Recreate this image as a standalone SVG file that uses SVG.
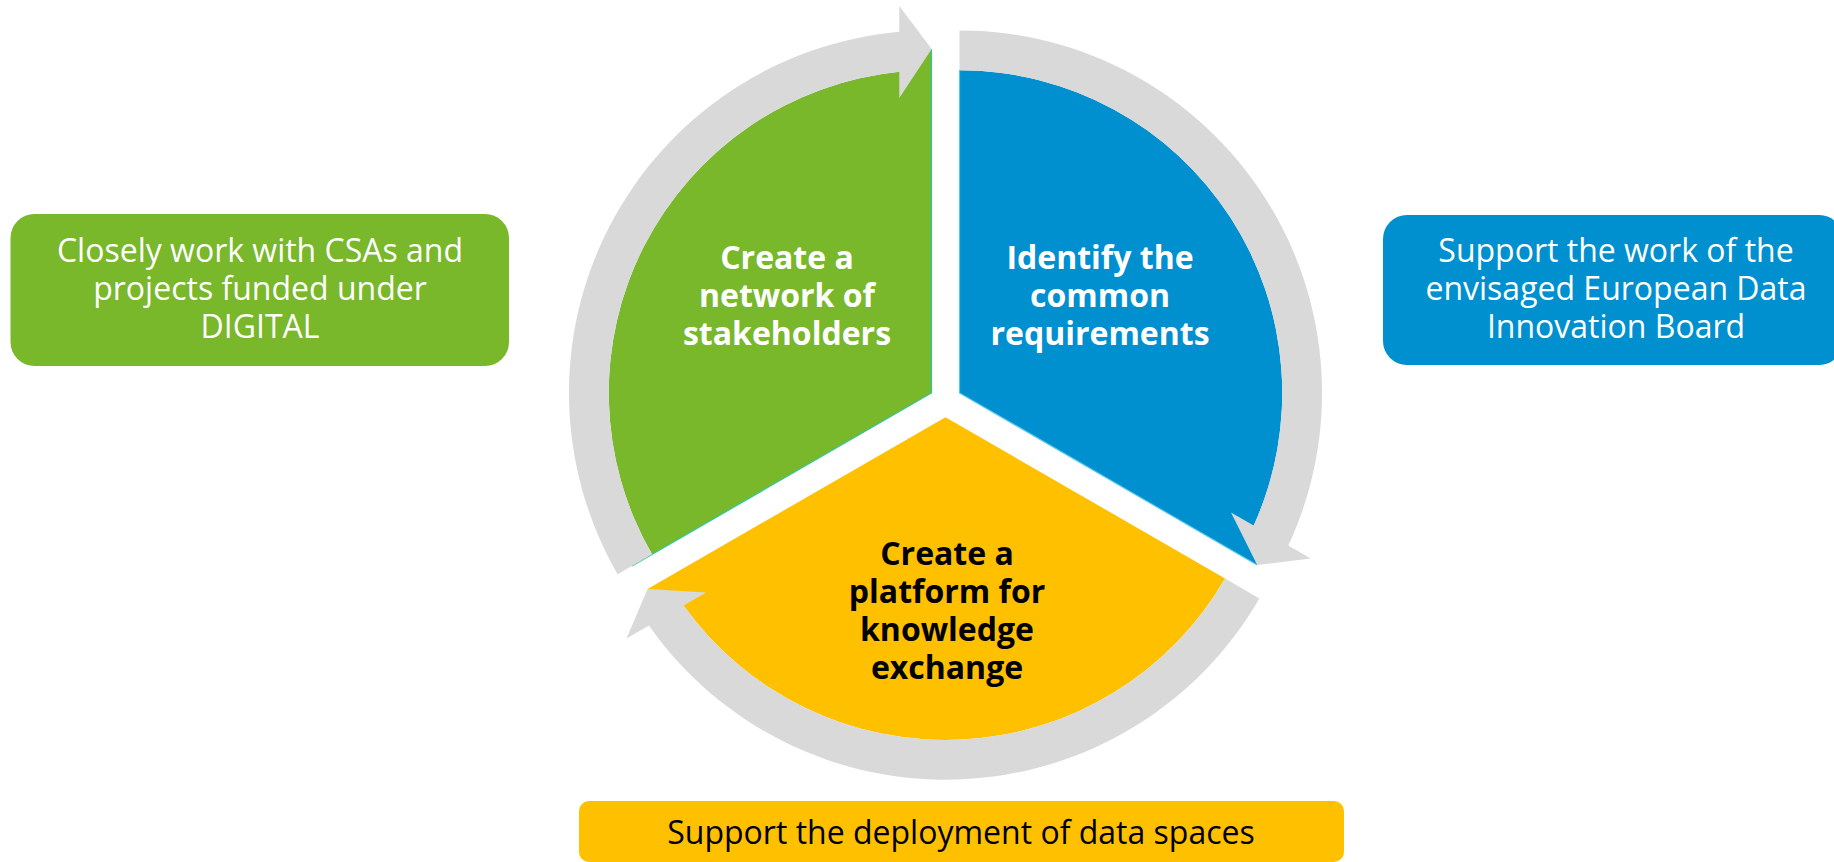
<svg xmlns="http://www.w3.org/2000/svg" width="1834" height="862" viewBox="0 0 1834 862">
  <style>
    .green { fill: #78B82A; }
    .blue { fill: #008FCF; }
    .yellow { fill: #FFC000; }
    .ring { fill: #D9D9D9; }
    .lbl { font-family: "Open Sans", "Liberation Sans", sans-serif; font-weight: 700; font-size: 32px; text-anchor: middle; }
    .box { font-family: "Open Sans", "Liberation Sans", sans-serif; font-weight: 400; font-size: 32px; text-anchor: middle; }
    .w { fill: #FFFFFF; }
    .k { fill: #000000; }
    .tealedge { stroke: #2CC7A4; stroke-width: 1.2; fill: none; }
    .cyanedge { stroke: #55C6EC; stroke-width: 1.2; fill: none; }
  </style>
  <rect width="1834" height="862" fill="#FFFFFF"/>

  <g id="sector-network">
    <path class="green" d="M 931.5 392.9 L 931.5 49 L 899.3 71.8 A 322.7 322.7 0 0 0 652.0 554.3 Z"/>
    <path class="tealedge" d="M 931.5 49 L 931.5 392.9 L 632 566"/>
    <text class="lbl w" x="787" y="269">Create a</text>
    <text class="lbl w" x="787" y="307">network of</text>
    <text class="lbl w" x="787" y="345">stakeholders</text>
  </g>

  <g id="sector-requirements">
    <path class="blue" d="M 959.5 392.9 L 959.5 70.2 A 322.7 322.7 0 0 1 1253.7 525.6 L 1257.2 565.0 Z"/>
    <path class="cyanedge" d="M 959.5 70.2 L 959.5 392.9 L 1257.2 565.0"/>
    <text class="lbl w" x="1100" y="269">Identify the</text>
    <text class="lbl w" x="1100" y="307">common</text>
    <text class="lbl w" x="1100" y="345">requirements</text>
  </g>

  <g id="sector-platform">
    <path class="yellow" d="M 945.5 417.2 L 1245 590 L 1225.0 578.6 A 322.7 322.7 0 0 1 683.5 605.6 L 647.6 589.0 Z"/>
    <text class="lbl k" x="947" y="565">Create a</text>
    <text class="lbl k" x="947" y="603">platform for</text>
    <text class="lbl k" x="947" y="641">knowledge</text>
    <text class="lbl k" x="947" y="679">exchange</text>
  </g>

  <g id="connectors">
    <path class="ring" d="M 652.0 554.3 L 617.6 574.2 A 362.5 362.5 0 0 1 899.3 31.8 L 899.3 6 L 931.7 49 L 899.3 98 L 899.3 71.8 A 322.7 322.7 0 0 0 652.0 554.3 Z"/>
    <path class="ring" d="M 959.5 70.2 L 959.5 30.4 A 362.5 362.5 0 0 1 1288.3 545.6 L 1310.7 558.5 L 1257.2 565.0 L 1231.0 512.5 L 1253.7 525.6 A 322.7 322.7 0 0 0 959.5 70.2 Z"/>
    <path class="ring" d="M 1225.0 578.6 L 1259.4 598.5 A 362.5 362.5 0 0 1 648.9 625.6 L 626.5 638.5 L 647.6 589.0 L 706.2 592.5 L 683.5 605.6 A 322.7 322.7 0 0 0 1225.0 578.6 Z"/>
  </g>

  <g id="box-csas">
    <rect class="green" x="10.5" y="214" width="498.5" height="152" rx="24" ry="24"/>
    <text class="box w" x="260" y="262">Closely work with CSAs and</text>
    <text class="box w" x="260" y="300">projects funded under</text>
    <text class="box w" x="260" y="338">DIGITAL</text>
  </g>

  <g id="box-edib">
    <rect class="blue" x="1383" y="215" width="460" height="150" rx="24" ry="24"/>
    <text class="box w" x="1616" y="262">Support the work of the</text>
    <text class="box w" x="1616" y="300">envisaged European Data</text>
    <text class="box w" x="1616" y="338">Innovation Board</text>
  </g>

  <g id="box-dataspaces">
    <rect class="yellow" x="579" y="801" width="765" height="61" rx="10" ry="10"/>
    <text class="box k" x="961" y="844">Support the deployment of data spaces</text>
  </g>
</svg>
